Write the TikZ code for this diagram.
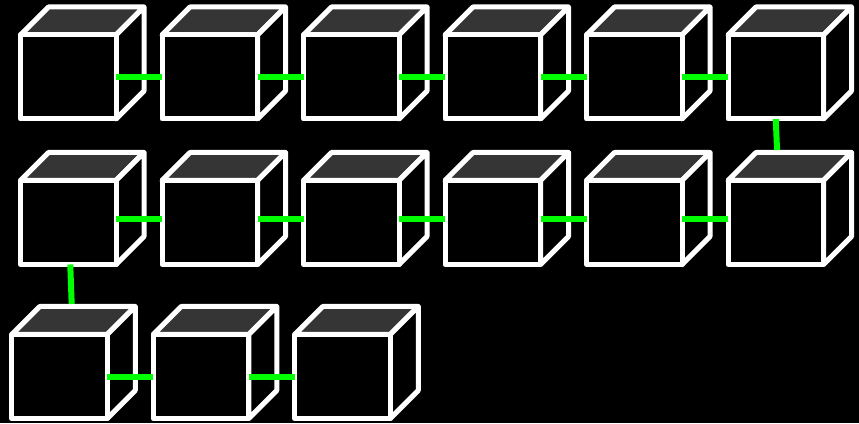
\documentclass[tikz,border=0pt]{standalone}
\usepackage{tikz}
\usepackage{xcolor}
\usetikzlibrary{positioning}
\definecolor{topgray}{RGB}{53,53,53}
\definecolor{linkgreen}{RGB}{0,255,0}

\tikzset{
  face/.style={draw=white, line width=5pt, line join=round},
  cube/.style={rectangle, draw=white, fill=black, line width=5pt, line join=round,
    minimum width=95.5pt, minimum height=84pt, inner sep=0pt, outer sep=0pt,
    append after command={\pgfextra{
      \filldraw[face, fill=topgray] (\tikzlastnode.north west) -- ++(28pt,28pt) -- ++(95.5pt,0pt) -- (\tikzlastnode.north east) -- cycle;
      \filldraw[face, fill=black] (\tikzlastnode.north east) -- ++(28pt,28pt) -- ++(0pt,-84pt) -- (\tikzlastnode.south east) -- cycle;
    }}},
  link/.style={draw=linkgreen, line width=6pt},
}

\begin{document}
\begin{tikzpicture}[x=1pt, y=1pt, node distance=46pt]
\path[use as bounding box, fill=black] (0,0) rectangle (859,423);

% first row
\node (a1) [cube] at (68.25,346) {};
\node (a2) [cube, right=of a1] {};
\node (a3) [cube, right=of a2] {};
\node (a4) [cube, right=of a3] {};
\node (a5) [cube, right=of a4] {};
\node (a6) [cube, right=of a5] {};

% second row
\node (b1) [cube, below=61.5pt of a1] {};
\node (b2) [cube, right=of b1] {};
\node (b3) [cube, right=of b2] {};
\node (b4) [cube, right=of b3] {};
\node (b5) [cube, right=of b4] {};
\node (b6) [cube, right=of b5] {};

% third row
\node (c1) [cube, below=70pt of b1, xshift=-8.75pt] {};
\node (c2) [cube, right=of c1] {};
\node (c3) [cube, right=of c2] {};

\draw [link] (a1) -- (a2);
\draw [link] (a2) -- (a3);
\draw [link] (a3) -- (a4);
\draw [link] (a4) -- (a5);
\draw [link] (a5) -- (a6);
\draw [link] (a6.south) -- ([xshift=1.3pt, yshift=30.5pt]b6.north);
\draw [link] ([yshift=3.5pt]b1.east) -- ([yshift=3.5pt]b2.west);
\draw [link] ([yshift=3.5pt]b2.east) -- ([yshift=3.5pt]b3.west);
\draw [link] ([yshift=3.5pt]b3.east) -- ([yshift=3.5pt]b4.west);
\draw [link] ([yshift=3.5pt]b4.east) -- ([yshift=3.5pt]b5.west);
\draw [link] ([yshift=3.5pt]b5.east) -- ([yshift=3.5pt]b6.west);
\draw [link] ([xshift=2pt]b1.south) -- ([xshift=12.2pt, yshift=30.5pt]c1.north);
\draw [link] (c1) -- (c2);
\draw [link] (c2) -- (c3);
\end{tikzpicture}
\end{document}
